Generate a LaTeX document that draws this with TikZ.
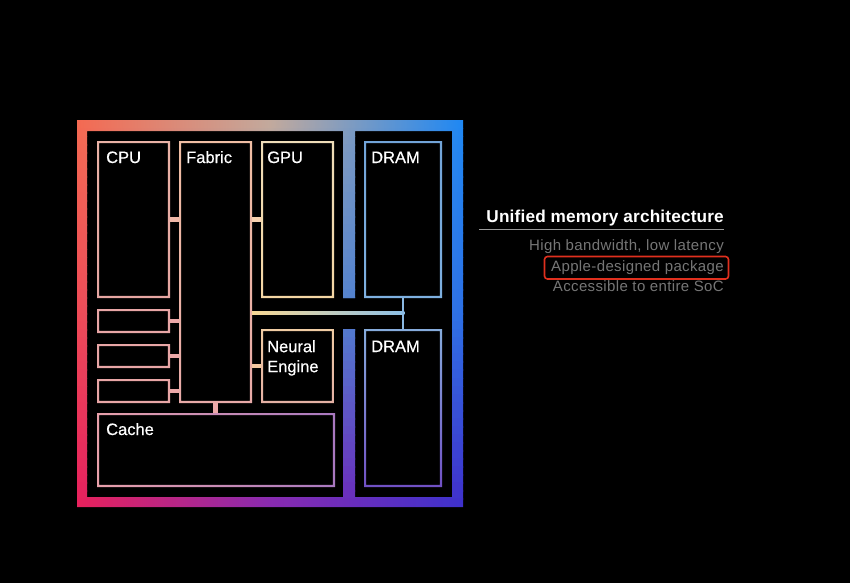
\documentclass[tikz,border=0pt]{standalone}
\usepackage{fontspec}
\setmainfont{Liberation Sans}
\newfontfamily\lblfont[FakeBold=0.5]{Liberation Sans}
\newfontfamily\subfont[LetterSpace=2.5]{Liberation Sans}
\newfontfamily\titlefont[LetterSpace=1.0]{Liberation Sans}
% frame colour grid
\definecolor{fTL}{HTML}{F46A52}\definecolor{fTM}{HTML}{C4AA9C}\definecolor{fTR}{HTML}{1E88F4}
\definecolor{fML}{HTML}{F04A56}\definecolor{fMM}{HTML}{6A8CC0}\definecolor{fMR}{HTML}{2C70E6}
\definecolor{fBL}{HTML}{E8205C}\definecolor{fBM}{HTML}{8A28B0}\definecolor{fBR}{HTML}{3E30CC}
% inner colours
\definecolor{cpuT}{HTML}{EAB2A6}\definecolor{cpuB}{HTML}{E6A6A2}
\definecolor{fabT}{HTML}{F0BEA4}\definecolor{fabB}{HTML}{E8AAA8}
\definecolor{gpuT}{HTML}{EEDCB8}\definecolor{gpuB}{HTML}{F4D6A4}
\definecolor{drT}{HTML}{72A4D8}\definecolor{drB}{HTML}{7EB0E0}
\definecolor{neT}{HTML}{F0CCA4}\definecolor{neB}{HTML}{E4B0A4}
\definecolor{drbT}{HTML}{86ACDC}\definecolor{drbB}{HTML}{7050C4}
\definecolor{caL}{HTML}{E8A0AA}\definecolor{caR}{HTML}{A878C0}
\definecolor{smc}{HTML}{E8A6A6}
\definecolor{busL}{HTML}{F8D894}\definecolor{busR}{HTML}{8CC0E8}
\definecolor{vcon}{HTML}{8AB8E2}
\definecolor{stA}{HTML}{F0B8A8}\definecolor{stB}{HTML}{F8D2B0}
\definecolor{stC}{HTML}{ECA8A8}\definecolor{stD}{HTML}{F4C8A0}
\definecolor{subgray}{HTML}{767676}\definecolor{ulgray}{HTML}{9A9A9A}
\definecolor{hired}{HTML}{E0301E}
\newcommand\ringof[2]{(#1.north west) rectangle (#1.south east) ([xshift=#2pt,yshift=#2pt]#1.south west) rectangle ([xshift=-#2pt,yshift=-#2pt]#1.north east)}
\newcommand\boxnode[5]{\node[boxn, minimum width={#4-#2}, minimum height={#5-#3}] (#1) at ({(#2+#4)/2},{(#3+#5)/2}) {};}
\tikzset{
  boxn/.style={draw=none, inner sep=0pt, outer sep=0pt, rectangle},
  lbl/.style={text=white, font=\lblfont\fontsize{16.5}{20}\selectfont, inner sep=0pt, anchor=base west},
  sub/.style={text=subgray, font=\subfont\fontsize{15}{18}\selectfont, inner sep=0pt, anchor=base east},
  stub/.style={line width=4.5pt, line cap=butt},
}
\begin{document}
\begin{tikzpicture}[x=1pt,y=-1pt]
\useasboundingbox (0,0) rectangle (850,583);
\fill[black] (0,0) rectangle (850,583);
% ---- outer frame with divider ----
\begin{scope}
\clip (77,120) rectangle (463,507) (87,497) rectangle (452,131)
      (343,129) rectangle (355,298) (343,329) rectangle (355,499);
\foreach \i in {0,...,47}{
  \pgfmathsetmacro\ya{120+\i*8.0625}
  \pgfmathsetmacro\yb{\ya+8.9}
  \pgfmathtruncatemacro\p{round((\i+0.5)*4.1667)}
  \ifnum\p<100
    \colorlet{cL}{fML!\p!fTL}\colorlet{cM}{fMM!\p!fTM}\colorlet{cR}{fMR!\p!fTR}
  \else
    \pgfmathtruncatemacro\q{\p-100}
    \colorlet{cL}{fBL!\q!fML}\colorlet{cM}{fBM!\q!fMM}\colorlet{cR}{fBR!\q!fMR}
  \fi
  \shade[left color=cL,right color=cR,middle color=cM] (77,\ya) rectangle (463,\yb);
}
\end{scope}
% ---- boxes ----
\boxnode{cpu}{97}{141}{170}{298}
\boxnode{fab}{179}{141}{252}{403}
\boxnode{gpu}{261}{141}{334}{298}
\boxnode{dram1}{364}{141}{442}{298}
\boxnode{ne}{261}{329}{334}{403}
\boxnode{dram2}{364}{329}{442}{487}
\boxnode{cache}{97}{413}{335}{487}
\boxnode{s1}{97}{309}{170}{333}
\boxnode{s2}{97}{344}{170}{368}
\boxnode{s3}{97}{379}{170}{403}
\shade[top color=cpuT,bottom color=cpuB] \ringof{cpu}{2.2};
\shade[top color=fabT,bottom color=fabB] \ringof{fab}{2.2};
\shade[top color=gpuT,bottom color=gpuB] \ringof{gpu}{2.2};
\shade[top color=drT,bottom color=drB] \ringof{dram1}{2.2};
\shade[top color=neT,bottom color=neB] \ringof{ne}{2.2};
\shade[top color=drbT,bottom color=drbB] \ringof{dram2}{2.2};
\shade[left color=caL,right color=caR] \ringof{cache}{2.2};
\fill[smc] \ringof{s1}{2.2};
\fill[smc] \ringof{s2}{2.2};
\fill[smc] \ringof{s3}{2.2};
% ---- connectors ----
\draw[stub,stA] (cpu.east) -- (cpu.east -| fab.west);
\draw[stub,stB] (gpu.west) -- (gpu.west -| fab.east);
\draw[stub,stC] (s1.east) -- (s1.east -| fab.west);
\draw[stub,stC] (s2.east) -- (s2.east -| fab.west);
\draw[stub,stC] (s3.east) -- (s3.east -| fab.west);
\draw[stub,stD] (ne.west) -- (ne.west -| fab.east);
\draw[stub,stC] (fab.south) -- (cache.north -| fab.south);
\coordinate (busy) at (0,313);
\coordinate (bus0) at (fab.east |- busy);
\coordinate (bus1) at (dram1.south |- busy);
\shade[left color=busL,right color=busR] ([yshift=1.6pt]bus0) rectangle ([yshift=-1.6pt,xshift=1.3pt]bus1);
\draw[line width=2.6pt, vcon] (dram1.south) -- (dram2.north);
% ---- labels ----
\node[lbl] (tcpu) at (106,163) {CPU};
\node[lbl] (tfab) at (186,163) {Fabric};
\node[lbl] (tgpu) at (267,163) {GPU};
\node[lbl] (tdr1) at (371,163) {DRAM};
\node[lbl, anchor=north west, align=left] (tne) at (267,340) {Neural\\Engine};
\node[lbl] (tdr2) at (371,352) {DRAM};
\node[lbl] (tca) at (106,435) {Cache};
% ---- legend text ----
\node[text=white, font=\titlefont\bfseries\fontsize{17.2}{20}\selectfont, inner sep=0pt, anchor=base east] (title) at (724,222) {Unified memory architecture};
\coordinate (ul0) at (479,229.5);
\coordinate (ul1) at (724,229.5);
\draw[ulgray, line width=1pt] (ul0) -- (ul1);
\node[sub] (l1) at (724,250) {High bandwidth, low latency};
\node[sub] (l2) at (724,271) {Apple-designed package};
\node[sub] (l3) at (724,291.5) {Accessible to entire SoC};
\coordinate (hb0) at (544.5,256.5);
\coordinate (hb1) at (728.5,279);
\draw[hired, line width=1.6pt, rounded corners=3pt] (hb0) rectangle (hb1);
\end{tikzpicture}
\end{document}
